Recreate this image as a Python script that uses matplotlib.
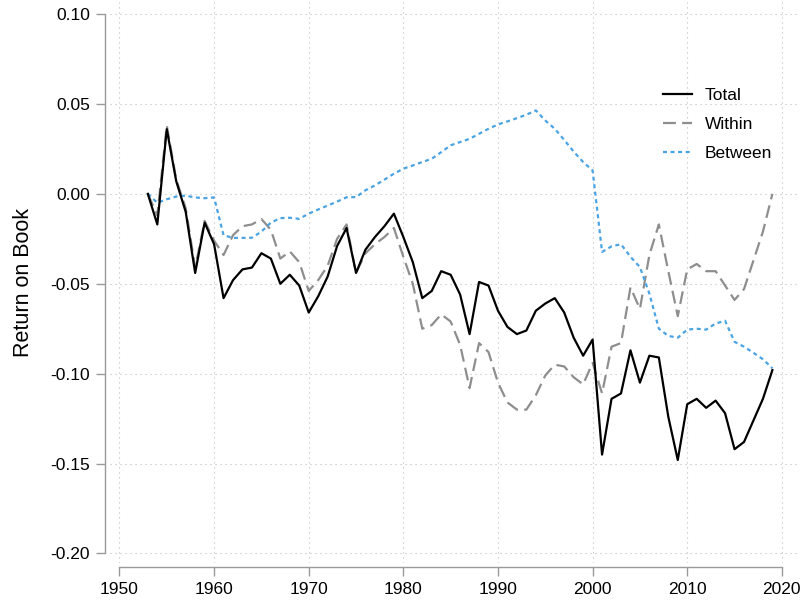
import numpy as np
import matplotlib.pyplot as plt

plt.rcParams['font.family'] = ['Liberation Sans', 'DejaVu Sans']

# ------------------------------------------------------------
# data (1953-2019)
# ------------------------------------------------------------
years = np.arange(1953, 2020)

total = [
    0.000, -0.017, 0.036, 0.007, -0.010, -0.044, -0.016, -0.028,   # 1953-1960
    -0.058, -0.048, -0.042, -0.041, -0.033, -0.036, -0.050, -0.045, -0.051, -0.066,   # 1961-1970
    -0.057, -0.046, -0.029, -0.019, -0.044, -0.031, -0.024, -0.018, -0.011, -0.024,   # 1971-1980
    -0.038, -0.058, -0.054, -0.043, -0.045, -0.056, -0.078, -0.049, -0.051, -0.065,   # 1981-1990
    -0.074, -0.078, -0.076, -0.065, -0.061, -0.058, -0.066, -0.080, -0.090, -0.081,   # 1991-2000
    -0.145, -0.114, -0.111, -0.087, -0.105, -0.090, -0.091, -0.124, -0.148, -0.117,   # 2001-2010
    -0.114, -0.119, -0.115, -0.122, -0.142, -0.138, -0.126, -0.114, -0.098,           # 2011-2019
]

within = [
    0.000, -0.012, 0.038, 0.008, -0.008, -0.041, -0.015, -0.026,
    -0.034, -0.023, -0.018, -0.017, -0.014, -0.020, -0.036, -0.032, -0.038, -0.054,
    -0.048, -0.040, -0.025, -0.017, -0.044, -0.033, -0.028, -0.024, -0.019, -0.035,
    -0.050, -0.075, -0.073, -0.067, -0.071, -0.084, -0.108, -0.083, -0.088, -0.105,
    -0.116, -0.120, -0.120, -0.112, -0.101, -0.095, -0.096, -0.102, -0.106, -0.094,
    -0.111, -0.085, -0.083, -0.052, -0.064, -0.034, -0.017, -0.043, -0.068, -0.042,
    -0.039, -0.043, -0.043, -0.051, -0.059, -0.053, -0.037, -0.021, 0.000,
]

between = [
    0.000, -0.005, -0.003, -0.0015, -0.001, -0.002, -0.0024, -0.002,
    -0.023, -0.0245, -0.0245, -0.0244, -0.021, -0.016, -0.0135, -0.0133, -0.0139, -0.011,
    -0.0087, -0.0065, -0.0043, -0.0019, -0.0018, 0.002, 0.0047, 0.0079, 0.0112, 0.014,
    0.0158, 0.0177, 0.0195, 0.0232, 0.027, 0.0288, 0.0306, 0.0334, 0.0362, 0.0386,
    0.0403, 0.0421, 0.044, 0.0464, 0.0408, 0.0362, 0.030, 0.0235, 0.0177, 0.013,
    -0.0323, -0.0292, -0.028, -0.035, -0.0407, -0.0555, -0.075, -0.079, -0.080, -0.0755,
    -0.075, -0.0755, -0.0721, -0.0706, -0.0823, -0.085, -0.0884, -0.092, -0.097,
]

x_ticks = [1950, 1960, 1970, 1980, 1990, 2000, 2010, 2020]
y_ticks = [-0.20, -0.15, -0.10, -0.05, 0.00, 0.05, 0.10]

# ------------------------------------------------------------
# plot
# ------------------------------------------------------------
fig = plt.figure(figsize=(8.01, 6.03), dpi=100)
ax = fig.add_axes([110 / 801, 40 / 603, 687 / 801, 561 / 603])

ax.plot(years, total, color="black", linewidth=1.6, label="Total", zorder=4)
ax.plot(years, within, color="#8e8e8e", linewidth=1.6, dashes=(5.8, 2.8),
        label="Within", zorder=3)
ax.plot(years, between, color="#4aa3e3", linewidth=1.6, dashes=(1.8, 1.6),
        label="Between", zorder=3)

ax.set_xlim(1949.0, 2021.6)
ax.set_ylim(-0.2053, 0.1067)
ax.set_xticks(x_ticks)
ax.set_yticks(y_ticks)
ax.set_yticklabels([f"{v:.2f}" for v in y_ticks])

ax.grid(True, color="#bdbdbd", linewidth=0.8, linestyle=(0, (1, 3.5)))
ax.set_axisbelow(True)

for side in ["top", "right"]:
    ax.spines[side].set_visible(False)
ax.spines["left"].set_position(("outward", 3.6))
ax.spines["bottom"].set_position(("outward", 2.9))
ax.spines["left"].set_bounds(-0.20, 0.10)
ax.spines["bottom"].set_bounds(1950, 2020)
for side in ["left", "bottom"]:
    ax.spines[side].set_color("#9a9a9a")
    ax.spines[side].set_linewidth(1.0)

ax.tick_params(axis="both", direction="out", length=6.5, width=1.0,
               color="#9a9a9a", labelsize=12.5, labelcolor="black")
ax.tick_params(axis="y", pad=4.3)
ax.tick_params(axis="x", pad=4)

ax.set_ylabel("Return on Book", fontsize=15.5, labelpad=12)

ax.legend(loc="upper right", bbox_to_anchor=(0.987, 0.875), frameon=False,
          fontsize=12.5, handlelength=1.65, handletextpad=0.75,
          labelspacing=0.8)

fig.savefig("out.png", dpi=100)
